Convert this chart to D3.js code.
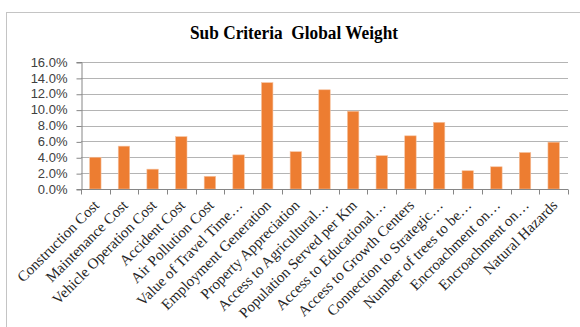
<!DOCTYPE html>
<html>
<head>
<meta charset="utf-8">
<script src="https://cdn.jsdelivr.net/npm/d3@7"></script>
<style>
  body { margin: 0; background: #fff; }
</style>
</head>
<body>
<div id="view"></div>
<script>
var categories = ["Construction Cost", "Maintenance Cost", "Vehicle Operation Cost",
    "Accident Cost", "Air Pollution Cost", "Value of Travel Time\u2026",
    "Employment Generation", "Property Appreciation", "Access to Agricultural\u2026",
    "Population Served per Km", "Access to Educational\u2026", "Access to Growth Centers",
    "Connection to Strategic\u2026", "Number of trees to be\u2026", "Encroachment on\u2026",
    "Encroachment on\u2026", "Natural Hazards"];
var weights = [0.040, 0.054, 0.025, 0.066, 0.016, 0.043, 0.134, 0.047, 0.125,
    0.098, 0.042, 0.067, 0.084, 0.023, 0.028, 0.046, 0.059];
var yTicks = [0, 0.02, 0.04, 0.06, 0.08, 0.10, 0.12, 0.14, 0.16];

var W = 580, H = 327;
var margin = {top: 62, right: 12, bottom: 138, left: 81},
    width = 568 - margin.left,
    height = 189 - margin.top;

var svg = d3.select("#view")
    .append("svg")
    .attr("width", W)
    .attr("height", H);

// chart frame
svg.append("rect")
    .attr("x", 6.5)
    .attr("y", 12.5)
    .attr("width", W + 20)
    .attr("height", H + 20)
    .attr("fill", "none")
    .attr("stroke", "#c4c4c4");

svg.append("text")
    .attr("x", 294)
    .attr("y", 39)
    .attr("text-anchor", "middle")
    .attr("font-family", "'Liberation Serif', 'Times New Roman', serif")
    .attr("font-weight", "bold")
    .attr("font-size", "18px")
    .attr("textLength", 208)
    .attr("lengthAdjust", "spacingAndGlyphs")
    .attr("fill", "#000")
    .style("white-space", "pre")
    .text("Sub Criteria  Global Weight");

var g = svg.append("g")
    .attr("transform", "translate(" + margin.left + "," + margin.top + ")");

var x = d3.scaleBand()
    .domain(d3.range(categories.length))
    .range([0, width])
    .paddingInner(0.6)
    .paddingOuter(0.3);

var y = d3.scaleLinear()
    .domain([0, 0.16])
    .range([height, 0]);

// gridlines
g.append("g")
    .selectAll("line")
    .data(yTicks.slice(1))
    .enter().append("line")
    .attr("x1", 0)
    .attr("x2", width)
    .attr("y1", function(d) { return Math.round(y(d)) + 0.5; })
    .attr("y2", function(d) { return Math.round(y(d)) + 0.5; })
    .attr("stroke", "#b4b4b4");

g.append("g")
    .selectAll("rect")
    .data(weights)
    .enter().append("rect")
    .attr("x", function(d, i) { return x(i); })
    .attr("width", x.bandwidth())
    .attr("y", function(d) { return y(d); })
    .attr("height", function(d) { return y(0) - y(d); })
    .attr("fill", "#ED7D31")
    .attr("stroke", "#f6c3a1")
    .attr("stroke-width", 0.6);

// y axis
var yAxis = g.append("g")
    .attr("transform", "translate(0.5,0)")
    .call(d3.axisLeft(y)
        .tickValues(yTicks)
        .tickSize(5)
        .tickFormat(d3.format(".1%")));
yAxis.selectAll("line").attr("stroke", "#868686")
    .attr("transform", function() { return "translate(0,0.5)"; });
yAxis.select(".domain").attr("stroke", "#868686");
yAxis.selectAll("text")
    .attr("x", -14)
    .attr("font-family", "'Liberation Sans', Arial, sans-serif")
    .attr("font-size", "13px")
    .attr("fill", "#404040");

// x axis: ticks at band boundaries
var xAxis = g.append("g")
    .attr("transform", "translate(0," + (height + 0.5) + ")");
xAxis.append("line")
    .attr("x1", 0)
    .attr("x2", width)
    .attr("stroke", "#868686");
var step = x.step();
xAxis.selectAll(".tk")
    .data(d3.range(categories.length + 1))
    .enter().append("line")
    .attr("class", "tk")
    .attr("x1", function(i) { return Math.round(i * step) + 0.5; })
    .attr("x2", function(i) { return Math.round(i * step) + 0.5; })
    .attr("y1", 0)
    .attr("y2", 5)
    .attr("stroke", "#868686");

xAxis.selectAll(".lbl")
    .data(categories)
    .enter().append("text")
    .attr("class", "lbl")
    .attr("transform", function(d, i) {
        var cx = x(i) + x.bandwidth() / 2 + 1;
        return "translate(" + cx + ",13) rotate(-45)";
    })
    .attr("dy", "0.35em")
    .attr("text-anchor", "end")
    .attr("font-family", "'Liberation Serif', 'Times New Roman', serif")
    .attr("font-size", "15px")
    .attr("fill", "#262626")
    .text(function(d) { return d; });
</script>
</body>
</html>
